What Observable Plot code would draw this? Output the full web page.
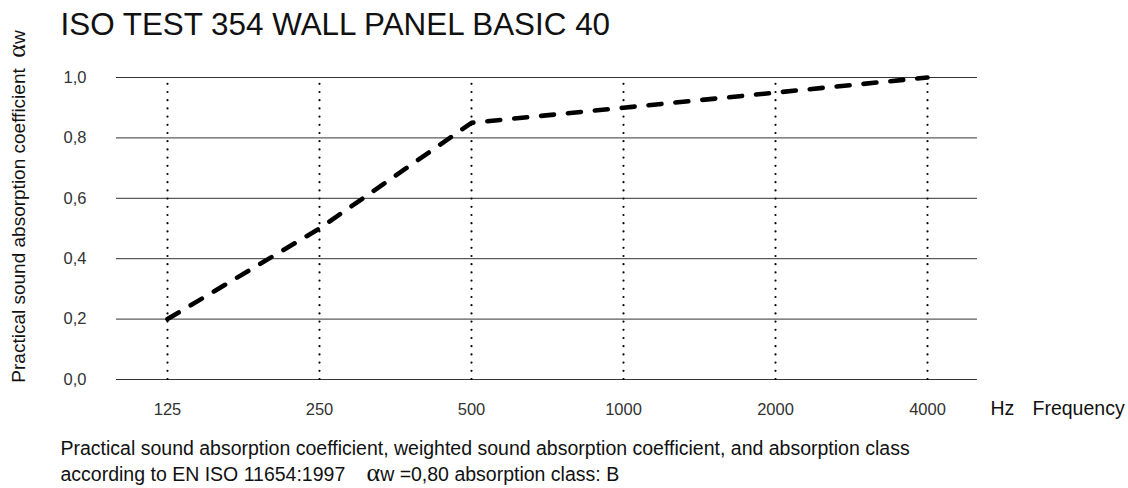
<!DOCTYPE html>
<html>
<head>
<meta charset="utf-8">
<script src="https://cdn.jsdelivr.net/npm/d3@7"></script>
<script src="https://cdn.jsdelivr.net/npm/@observablehq/plot@0.6"></script>
<style>
  html, body { margin: 0; padding: 0; background: #fff; }
  #chart svg { display: block; font-family: "Liberation Sans", Arial, sans-serif; }
</style>
</head>
<body>
<div id="chart"></div>
<script>
const frequencies = ["125", "250", "500", "1000", "2000", "4000"];
const absorption = [0.20, 0.50, 0.85, 0.90, 0.95, 1.00];
const yTicks = [0, 0.2, 0.4, 0.6, 0.8, 1.0];
const titleText = "ISO TEST 354 WALL PANEL BASIC 40";
const yLabel = "Practical sound absorption coefficient  αw";
const xUnit = "Hz";
const xLabel = "Frequency";
const captionLine1 = "Practical sound absorption coefficient, weighted sound absorption coefficient, and absorption class";
const captionLine2a = "according to EN ISO 11654:1997";
const captionLine2b = "αw =0,80 absorption class: B";

const data = frequencies.map((f, i) => ({f, v: absorption[i]}));
const fmt = d => d.toFixed(1).replace(".", ",");

const plot = Plot.plot({
  width: 1128,
  height: 488,
  marginLeft: 116,
  marginRight: 151,
  marginTop: 77,
  marginBottom: 109,
  style: {fontFamily: "Liberation Sans, Arial, sans-serif", background: "#fff"},
  x: {type: "point", domain: frequencies, padding: 0.33, axis: null},
  y: {domain: [0, 1], axis: null},
  marks: [
    Plot.ruleY(yTicks, {stroke: "#333", strokeWidth: 1}),
    Plot.ruleX(frequencies, {x: d => d, y1: 0, y2: 1, stroke: "#000", strokeWidth: 2.2, strokeDasharray: "0,8.2", strokeLinecap: "round"}),
    Plot.line(data, {x: "f", y: "v", stroke: "#000", strokeWidth: 4.6, strokeDasharray: "13,14", strokeLinecap: "round"}),
    // y tick labels
    Plot.text(yTicks, {frameAnchor: "left", y: d => d, text: fmt, textAnchor: "end", dx: -30, fontSize: 16.5, fill: "#333"}),
    // x tick labels
    Plot.text(frequencies, {x: d => d, text: d => d, frameAnchor: "bottom", lineAnchor: "bottom", dy: 35, fontSize: 16.5, fill: "#333"}),
    // axis unit + label
    Plot.text([xUnit], {frameAnchor: "bottom-right", text: d => d, textAnchor: "start", lineAnchor: "bottom", dx: 13, dy: 35, fontSize: 19.5, fill: "#111"}),
    Plot.text([xLabel], {frameAnchor: "bottom-right", text: d => d, textAnchor: "start", lineAnchor: "bottom", dx: 55, dy: 35, fontSize: 19.5, fill: "#111"}),
    // y label
    Plot.text([yLabel], {frameAnchor: "left", text: d => d, rotate: -90, textAnchor: "middle", lineAnchor: "bottom", dx: -92, dy: -22, fontSize: 19, fill: "#111"}),
    // title
    Plot.text([titleText], {frameAnchor: "top-left", text: d => d, textAnchor: "start", lineAnchor: "bottom", dx: -56, dy: -43, fontSize: 31.4, fill: "#111"}),
    // caption
    Plot.text([captionLine1], {frameAnchor: "bottom-left", text: d => d, textAnchor: "start", lineAnchor: "bottom", dx: -56, dy: 75, fontSize: 19.5, fill: "#111"}),
    Plot.text([captionLine2a], {frameAnchor: "bottom-left", text: d => d, textAnchor: "start", lineAnchor: "bottom", dx: -56, dy: 101, fontSize: 19.5, fill: "#111"}),
    Plot.text([captionLine2b], {frameAnchor: "bottom-left", text: d => d, textAnchor: "start", lineAnchor: "bottom", dx: 250, dy: 101, fontSize: 19.5, fill: "#111"})
  ]
});

// Render the α glyph in a serif face, larger, as in the reference
d3.select(plot).selectAll("text").each(function() {
  const t = this.textContent;
  if (!t.includes("α") || this.querySelector("tspan")) return;
  const parts = t.split("α");
  const sel = d3.select(this);
  sel.text(null);
  sel.append("tspan").text(parts[0]);
  sel.append("tspan").attr("font-family", "Liberation Serif, DejaVu Serif, serif").attr("font-size", 26).text("α");
  sel.append("tspan").text(parts[1]);
});

document.getElementById("chart").append(plot);
</script>
</body>
</html>
